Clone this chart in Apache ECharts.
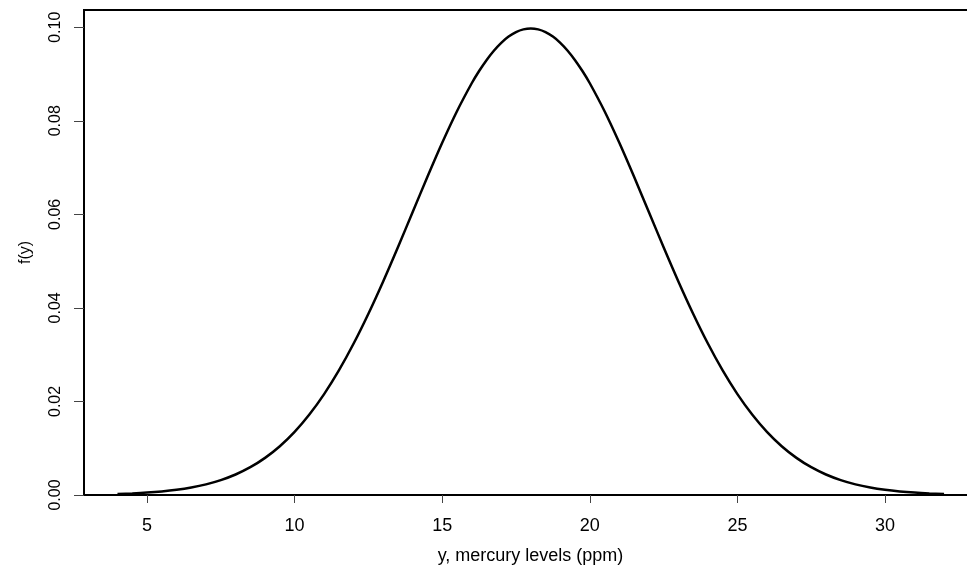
<!DOCTYPE html>
<html><head><meta charset="utf-8">
<script src="https://cdn.jsdelivr.net/npm/echarts@6/dist/echarts.min.js"></script>
<style>html,body{margin:0;padding:0;background:#fff}#c{width:967px;height:568px}</style>
</head><body><div id="c"></div>
<script>
var xValues = [4,4.5,5,5.5,6,6.5,7,7.5,8,8.5,9,9.5,10,10.5,11,11.5,12,12.5,13,13.5,14,14.5,15,15.5,16,16.25,16.5,16.75,17,17.25,17.5,17.75,18,18.25,18.5,18.75,19,19.25,19.5,19.75,20,20.5,21,21.5,22,22.5,23,23.5,24,24.5,25,25.5,26,26.5,27,27.5,28,28.5,29,29.5,30,30.5,31,31.5,32];
var densityValues = [0.00022,0.00034,0.00051,0.00076,0.00111,0.00160,0.00227,0.00318,0.00438,0.00594,0.00794,0.01043,0.01350,0.01720,0.02157,0.02663,0.03238,0.03876,0.04566,0.05297,0.06050,0.06802,0.07529,0.08204,0.08802,0.09063,0.09296,0.09498,0.09667,0.09800,0.09896,0.09954,0.09974,0.09954,0.09896,0.09800,0.09667,0.09498,0.09296,0.09063,0.08802,0.08204,0.07529,0.06802,0.06050,0.05297,0.04566,0.03876,0.03238,0.02663,0.02157,0.01720,0.01350,0.01043,0.00794,0.00594,0.00438,0.00318,0.00227,0.00160,0.00111,0.00076,0.00051,0.00034,0.00022];
var xTicks = [5,10,15,20,25,30];
var yTicks = [0,0.02,0.04,0.06,0.08,0.10];
var xTitle = 'y, mercury levels (ppm)';
var yTitle = 'f(y)';

var pts = xValues.map(function(x,i){return [x, densityValues[i]];});
var chart = echarts.init(document.getElementById('c'), null, {renderer:'canvas'});
var font = 'Liberation Sans, Arial, sans-serif';
chart.setOption({
  animation:false,
  backgroundColor:'#fff',
  grid:{left:84,top:10,width:893,height:485,outerBoundsMode:'none',containLabel:false,
    show:true,borderColor:'#000',borderWidth:2,backgroundColor:'transparent'},
  xAxis:{type:'value',min:2.866,max:33.116,
    axisLine:{show:false},
    splitLine:{show:false},
    axisTick:{show:true,length:8,customValues:xTicks,lineStyle:{color:'#444',width:1}},
    axisLabel:{customValues:xTicks,margin:22,color:'#000',fontSize:18,fontFamily:font},
    name:xTitle,nameLocation:'middle',nameGap:52,
    nameTextStyle:{color:'#000',fontSize:18,fontFamily:font}},
  yAxis:{type:'value',min:0,max:0.10368,
    axisLine:{show:false},
    splitLine:{show:false},
    axisTick:{show:true,length:10,customValues:yTicks,lineStyle:{color:'#444',width:1}},
    axisLabel:{customValues:yTicks,rotate:90,margin:20,color:'#000',fontSize:16,fontFamily:font,
      formatter:function(v){return v.toFixed(2);}},
    name:yTitle,nameLocation:'middle',nameGap:50,
    nameTextStyle:{color:'#000',fontSize:16,fontFamily:font}},
  series:[{type:'line',data:pts,smooth:0.3,showSymbol:false,
    lineStyle:{color:'#000',width:2.5}}]
});
</script></body></html>
